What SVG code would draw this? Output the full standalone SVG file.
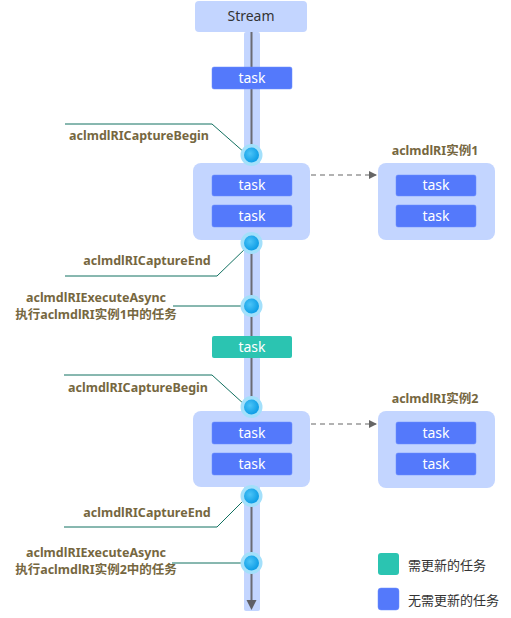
<svg xmlns="http://www.w3.org/2000/svg" width="511" height="618" viewBox="0 0 511 618">
<defs>
<style>
.tk{fill:#5479fb;stroke:#6b8cfc;stroke-width:0.5}
.tkg{fill:#2bc4b1}
.grp{fill:#c3d5ff}
.tt{font-family:"Noto Sans","DejaVu Sans",sans-serif;font-size:14px;fill:#ffffff;text-anchor:middle}
.lb{font-family:"Noto Sans","Noto Sans CJK SC",sans-serif;font-size:12.5px;font-weight:bold;fill:#76673f;text-anchor:middle}
.lg{font-family:"Noto Sans","Noto Sans CJK SC",sans-serif;font-size:13px;fill:#333333}
.ln{fill:none;stroke:#117060;stroke-width:1}
.da{fill:none;stroke:#666666;stroke-width:1.2;stroke-dasharray:5,4}
.halo{fill:#a3e0fb}
.dot{fill:url(#dg)}
</style>
<radialGradient id="dg" cx="0.4" cy="0.4" r="0.6">
<stop offset="0" stop-color="#4cc4f7"/>
<stop offset="1" stop-color="#0f9ee6"/>
</radialGradient>
<marker id="ah" markerWidth="8" markerHeight="8" refX="7" refY="4" orient="auto" markerUnits="userSpaceOnUse">
<path d="M0,0 L8,4 L0,8 Z" fill="#666666"/>
</marker>
</defs>
<rect width="511" height="618" fill="#ffffff"/>

<g id="stream">
<rect x="195" y="1" width="112" height="31" rx="4" class="grp"/>
<text x="251" y="21" class="tt" style="fill:#333333">Stream</text>
</g>

<g id="band">
<rect x="244" y="32" width="16" height="579" rx="2" fill="#c3d5ff"/>
<line x1="251.5" y1="32" x2="251.5" y2="602" stroke="#6b6b73" stroke-width="2"/>
<path d="M246.5,600 L256.5,600 L251.5,610 Z" fill="#5f5f66"/>
</g>

<g id="group1">
<rect x="193" y="163" width="117" height="77" rx="8" class="grp"/>
</g>
<g id="group2">
<rect x="193" y="411" width="117" height="76" rx="8" class="grp"/>
</g>
<g id="inst1">
<text x="435" y="155" class="lb">aclmdlRI实例1</text>
<rect x="378" y="163" width="117" height="77" rx="8" class="grp"/>
<rect x="396" y="175" width="80" height="21" rx="2" class="tk"/>
<text x="436" y="190" class="tt">task</text>
<rect x="396" y="205" width="80" height="22" rx="2" class="tk"/>
<text x="436" y="221" class="tt">task</text>
</g>
<g id="inst2">
<text x="435" y="403" class="lb">aclmdlRI实例2</text>
<rect x="378" y="411" width="117" height="77" rx="8" class="grp"/>
<rect x="396" y="422" width="80" height="22" rx="2" class="tk"/>
<text x="436" y="438" class="tt">task</text>
<rect x="396" y="453" width="80" height="22" rx="2" class="tk"/>
<text x="436" y="469" class="tt">task</text>
</g>

<g id="task0">
<rect x="212" y="67" width="80" height="22" rx="2" class="tk"/>
<text x="252" y="83" class="tt">task</text>
</g>
<g id="task1a">
<rect x="212" y="175" width="80" height="21" rx="2" class="tk"/>
<text x="252" y="190" class="tt">task</text>
</g>
<g id="task1b">
<rect x="212" y="205" width="80" height="22" rx="2" class="tk"/>
<text x="252" y="221" class="tt">task</text>
</g>
<g id="taskg">
<rect x="212" y="336" width="80" height="22" rx="2" class="tkg"/>
<text x="252" y="352" class="tt">task</text>
</g>
<g id="task2a">
<rect x="212" y="422" width="80" height="22" rx="2" class="tk"/>
<text x="252" y="438" class="tt">task</text>
</g>
<g id="task2b">
<rect x="212" y="453" width="80" height="22" rx="2" class="tk"/>
<text x="252" y="469" class="tt">task</text>
</g>

<g id="connectors">
<path class="da" d="M311,175 L376,175" marker-end="url(#ah)"/>
<path class="da" d="M311,424 L376,424" marker-end="url(#ah)"/>
<path class="ln" d="M65,124 L212,124 L245,153"/>
<path class="ln" d="M65,276 L217,276 L247,247"/>
<path class="ln" d="M173,306 L244,306"/>
<path class="ln" d="M64,375 L212,375 L245,405"/>
<path class="ln" d="M64,527 L217,527 L247,497"/>
<path class="ln" d="M172,563 L244,563"/>
</g>

<g id="dot1"><circle cx="251.5" cy="155" r="11" class="halo"/><circle cx="251.5" cy="155" r="7.5" class="dot"/></g>
<g id="dot2"><circle cx="251.5" cy="243" r="11" class="halo"/><circle cx="251.5" cy="243" r="7.5" class="dot"/></g>
<g id="dot3"><circle cx="251.5" cy="306" r="11" class="halo"/><circle cx="251.5" cy="306" r="7.5" class="dot"/></g>
<g id="dot4"><circle cx="251.5" cy="407" r="11" class="halo"/><circle cx="251.5" cy="407" r="7.5" class="dot"/></g>
<g id="dot5"><circle cx="251.5" cy="496" r="11" class="halo"/><circle cx="251.5" cy="496" r="7.5" class="dot"/></g>
<g id="dot6"><circle cx="251.5" cy="563" r="11" class="halo"/><circle cx="251.5" cy="563" r="7.5" class="dot"/></g>

<g id="labels">
<text x="139" y="140" class="lb">aclmdlRICaptureBegin</text>
<text x="147" y="265" class="lb">aclmdlRICaptureEnd</text>
<text x="96" y="302" class="lb">aclmdlRIExecuteAsync</text>
<text x="96" y="319" class="lb">执行aclmdlRI实例1中的任务</text>
<text x="138" y="392" class="lb">aclmdlRICaptureBegin</text>
<text x="147" y="517" class="lb">aclmdlRICaptureEnd</text>
<text x="96" y="557" class="lb">aclmdlRIExecuteAsync</text>
<text x="96" y="574" class="lb">执行aclmdlRI实例2中的任务</text>
</g>

<g id="legend">
<rect x="378" y="553" width="21" height="22" rx="3" class="tkg"/>
<text x="408" y="570" class="lg">需更新的任务</text>
<rect x="378" y="588" width="21" height="22" rx="3" class="tk"/>
<text x="408" y="605" class="lg">无需更新的任务</text>
</g>
</svg>
